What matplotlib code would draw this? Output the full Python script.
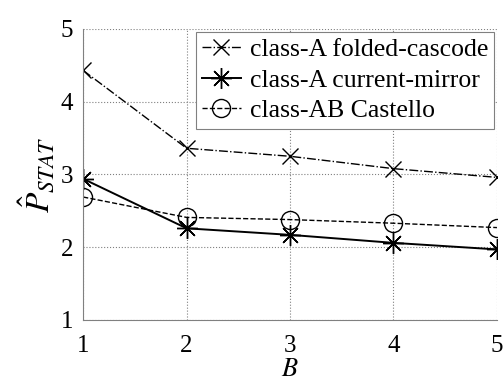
import numpy as np
import matplotlib.pyplot as plt

plt.rcParams['font.family'] = 'Liberation Serif'
plt.rcParams['mathtext.fontset'] = 'stix'

B = [1, 2, 3, 4, 5]
folded_cascode = [4.43, 3.36, 3.25, 3.08, 2.96]
current_mirror = [2.94, 2.26, 2.17, 2.06, 1.97]
castello = [2.69, 2.41, 2.38, 2.33, 2.27]

fig = plt.figure(figsize=(5.04, 3.86), dpi=100)
ax = fig.add_axes([0.165, 0.171, 0.821, 0.754])

ax.plot(B, folded_cascode, color='black', linestyle='-.', linewidth=1.0,
        marker='x', markersize=11, markeredgewidth=1.0, label='class-A folded-cascode')
ax.plot(B, current_mirror, color='black', linestyle='-', linewidth=1.4,
        marker=(8, 2, 0), markersize=15, markeredgewidth=1.0, label='class-A current-mirror')
ax.plot(B, castello, color='black', linestyle='--', linewidth=1.0,
        marker='o', markersize=13, markerfacecolor='none', markeredgewidth=1.0,
        label='class-AB Castello')

ax.set_xlim(1, 5)
ax.set_ylim(1, 5)
ax.set_xticks(B)
ax.set_yticks([1, 2, 3, 4, 5])
ax.tick_params(length=0, labelsize=18)
ax.tick_params(axis='x', pad=11)
ax.tick_params(axis='y', pad=7)
ax.grid(True, linestyle=':', color='gray', linewidth=0.8)
for s in ['top', 'right']:
    ax.spines[s].set_visible(False)
for s in ['left', 'bottom']:
    ax.spines[s].set_color('gray')

ax.set_xlabel('$B$', fontsize=19, labelpad=1)
ax.set_ylabel(r'$\hat{P}_{STAT}$', fontsize=24, labelpad=3)

leg = ax.legend(loc='upper right', fontsize=18.5, fancybox=False, framealpha=1,
                edgecolor='gray', borderpad=0.25, labelspacing=0.3,
                handlelength=1.5, handletextpad=0.35, borderaxespad=0.1)
leg.get_frame().set_linewidth(0.8)

plt.savefig('out.png', dpi=100)
